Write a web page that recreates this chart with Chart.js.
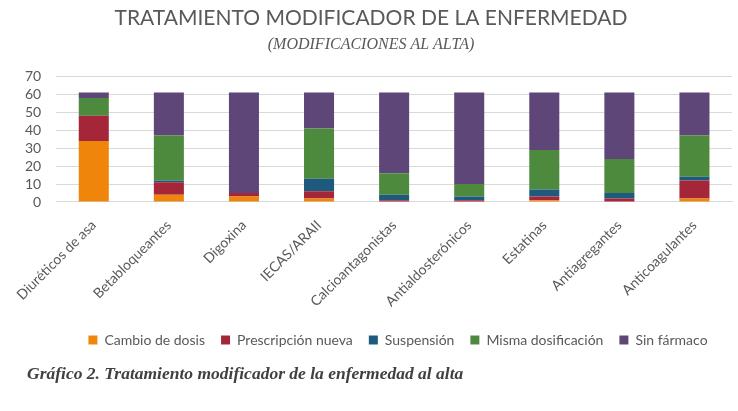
<!DOCTYPE html>
<html>
<head>
<meta charset="utf-8">
<script src="https://cdn.jsdelivr.net/npm/chart.js@4.4.0/dist/chart.umd.min.js"></script>
<style>
  html, body { margin: 0; padding: 0; background: #fff; }
  #wrap { position: relative; width: 738px; height: 411px; }
  #c { position: absolute; left: 0; top: 0; }
  #caption { position: absolute; left: 27px; top: 363px; font-family: "Liberation Serif", "DejaVu Serif", serif; font-style: italic; font-weight: bold; font-size: 17.5px; color: #404040; white-space: nowrap; }
</style>
</head>
<body>
<div id="wrap">
  <canvas id="c" width="738" height="411"></canvas>
  <div id="caption">Gráfico 2. Tratamiento modificador de la enfermedad al alta</div>
</div>
<script>
const categories = ["Diuréticos de asa", "Betabloqueantes", "Digoxina", "IECAS/ARAII", "Calcioantagonistas", "Antialdosterónicos", "Estatinas", "Antiagregantes", "Anticoagulantes"];
const seriesNames = ["Cambio de dosis", "Prescripción nueva", "Suspensión", "Misma dosificación", "Sin fármaco"];
const cambioDosis       = [34, 4, 3, 2, 0, 0, 1, 0, 2];
const prescripcionNueva = [14, 7, 2, 4, 1, 1, 2, 2, 10];
const suspension        = [0, 1, 0, 7, 3, 2, 4, 3, 2];
const mismaDosificacion = [10, 25, 0, 28, 12, 7, 22, 19, 23];
const sinFarmaco        = [3, 24, 56, 20, 45, 51, 32, 37, 24];
const yTicks = [0, 10, 20, 30, 40, 50, 60, 70];

const colors = ["#F0850C", "#A52638", "#1D5A7D", "#4E8A3E", "#5E4778"];
const allSeries = [cambioDosis, prescripcionNueva, suspension, mismaDosificacion, sinFarmaco];

const textColor = "#595959";
const sans = "Lato, 'Open Sans', sans-serif";

const legendShift = {
  id: "legendShift",
  afterLayout(chart) {
    const lg = chart.legend;
    if (lg) { lg.left += 27; lg.right += 27; }
  }
};

new Chart(document.getElementById("c"), {
  type: "bar",
  data: {
    labels: categories,
    datasets: allSeries.map((d, i) => ({
      label: seriesNames[i],
      data: d,
      backgroundColor: colors[i],
      borderWidth: 0,
      barPercentage: 0.4,
      categoryPercentage: 1.0
    }))
  },
  options: {
    responsive: false,
    animation: false,
    layout: { padding: { left: 10, right: 6, top: 0, bottom: 54 } },
    plugins: {
      title: {
        display: true,
        text: "TRATAMIENTO MODIFICADOR DE LA ENFERMEDAD",
        color: textColor,
        font: { family: sans, size: 21, weight: "normal" },
        padding: { top: 6, bottom: 4 }
      },
      subtitle: {
        display: true,
        text: "(MODIFICACIONES AL ALTA)",
        color: textColor,
        font: { family: "'Liberation Serif', serif", size: 16, style: "italic" },
        padding: { top: 0, bottom: 22 }
      },
      legend: {
        position: "bottom",
        labels: {
          color: textColor,
          font: { family: sans, size: 14 },
          boxWidth: 9, boxHeight: 9,
          padding: 16
        }
      },
      tooltip: { enabled: false }
    },
    scales: {
      x: {
        stacked: true,
        grid: { display: false },
        border: { color: "#d9d9d9" },
        ticks: {
          color: textColor,
          font: { family: sans, size: 14 },
          maxRotation: 45, minRotation: 45,
          padding: 7
        }
      },
      y: {
        stacked: true,
        min: 0, max: 70,
        afterBuildTicks: (axis) => { axis.ticks = yTicks.map(v => ({ value: v })); },
        grid: { color: "#d9d9d9", drawTicks: false },
        border: { display: false },
        ticks: {
          color: textColor,
          font: { family: sans, size: 14 },
          padding: 15,
          autoSkip: false
        }
      }
    }
  },
  plugins: [legendShift]
});
</script>
</body>
</html>
